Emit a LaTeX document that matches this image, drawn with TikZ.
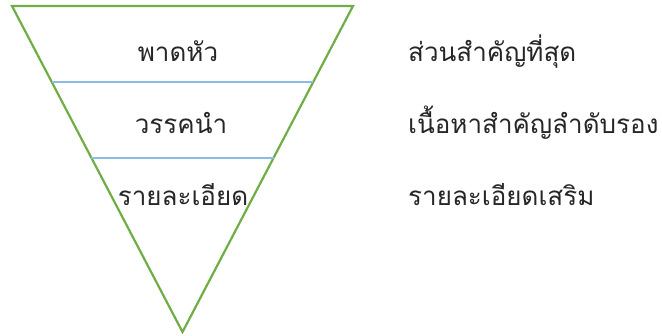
\documentclass[tikz,border=0pt]{standalone}
\usepackage{fontspec}
\newfontfamily\thaifont[Script=Thai]{Loma}
\usetikzlibrary{calc}
\definecolor{funnelgreen}{HTML}{70AD47}
\definecolor{layerblue}{HTML}{8DBBE8}

\begin{document}
\begin{tikzpicture}[
    x=1pt, y=-1pt,
    every node/.style={font=\thaifont\fontsize{26}{30}\selectfont, inner sep=0pt, text=black!85},
    layer/.style={anchor=base},
    note/.style={anchor=base west},
    funnel/.style={draw=funnelgreen, line width=2.2pt},
    divider/.style={draw=layerblue, line width=1.2pt}
]
\useasboundingbox (0,0) rectangle (662,336);

% Funnel outline
\coordinate (tl) at (12,6);
\coordinate (tr) at (353,6);
\coordinate (apex) at (182.5,332);
\draw[funnel] (tl) -- (tr) -- (apex) -- cycle;

% Dividers
\coordinate (d1l) at ($(tl)!0.233!(apex)$);
\coordinate (d1r) at ($(tr)!0.233!(apex)$);
\coordinate (d2l) at ($(tl)!0.466!(apex)$);
\coordinate (d2r) at ($(tr)!0.466!(apex)$);
\draw[divider] (d1l) -- (d1r);
\draw[divider] (d2l) -- (d2r);

% Layers
\node[layer] (headline) at (178,62) {พาดหัว};
\node[layer] (lead) at (181,134) {วรรคนำ};
\node[layer] (detail) at (183,206) {รายละเอียด};

% Notes
\node[note] (headnote) at (408,62) {ส่วนสำคัญที่สุด};
\node[note] (leadnote) at (408,134) {เนื้อหาสำคัญลำดับรอง};
\node[note] (detailnote) at (408,206) {รายละเอียดเสริม};

\end{tikzpicture}
\end{document}
